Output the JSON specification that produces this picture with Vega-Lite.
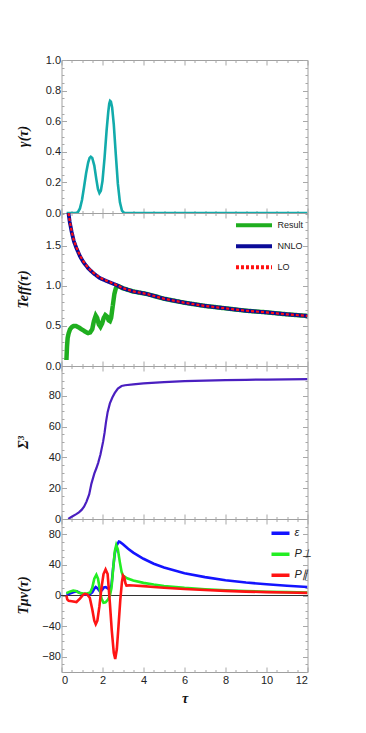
{
  "$schema": "https://vega.github.io/schema/vega-lite/v6.json",
  "padding": {"left": 15.5, "top": 53, "right": 5, "bottom": 5},
  "spacing": 0,
  "bounds": "flush",
  "config": {
    "view": {"stroke": "#a0a0a0", "strokeWidth": 1},
    "axis": {
      "domain": false, "grid": false,
      "tickColor": "#a8a8a8", "tickWidth": 1,
      "labelFont": "Liberation Sans", "labelFontSize": 11, "labelColor": "#222222", "labelPadding": 6,
      "titleFont": "Liberation Serif", "titleFontStyle": "italic", "titleFontWeight": "bold", "titleFontSize": 14, "titleColor": "#111111"
    },
    "legend": {"labelFont": "Liberation Sans", "labelFontSize": 9, "labelColor": "#222222"}
  },
  "datasets": {
    "gamma": [
      {"tau": 0.25, "v": 0}, {"tau": 0.5, "v": 0}, {"tau": 0.7, "v": 0}, {"tau": 0.8, "v": 0.005},
      {"tau": 0.9, "v": 0.03}, {"tau": 1.0, "v": 0.085}, {"tau": 1.1, "v": 0.17}, {"tau": 1.2, "v": 0.26},
      {"tau": 1.3, "v": 0.33}, {"tau": 1.37, "v": 0.36}, {"tau": 1.43, "v": 0.368}, {"tau": 1.5, "v": 0.36},
      {"tau": 1.6, "v": 0.31}, {"tau": 1.7, "v": 0.22}, {"tau": 1.78, "v": 0.155}, {"tau": 1.85, "v": 0.13},
      {"tau": 1.92, "v": 0.145}, {"tau": 2.0, "v": 0.21}, {"tau": 2.1, "v": 0.36}, {"tau": 2.2, "v": 0.54},
      {"tau": 2.28, "v": 0.66}, {"tau": 2.33, "v": 0.715}, {"tau": 2.37, "v": 0.733}, {"tau": 2.41, "v": 0.728},
      {"tau": 2.47, "v": 0.69}, {"tau": 2.55, "v": 0.58},
      {"tau": 2.65, "v": 0.38}, {"tau": 2.75, "v": 0.19}, {"tau": 2.85, "v": 0.07}, {"tau": 2.95, "v": 0.015},
      {"tau": 3.05, "v": 0}, {"tau": 5, "v": 0}, {"tau": 8, "v": 0}, {"tau": 12, "v": 0}
    ],
    "teff": [
      {"tau": 0.24, "T": 0.075, "s": "Result"}, {"tau": 0.27, "T": 0.25, "s": "Result"}, {"tau": 0.3, "T": 0.35, "s": "Result"},
      {"tau": 0.35, "T": 0.41, "s": "Result"}, {"tau": 0.42, "T": 0.46, "s": "Result"}, {"tau": 0.5, "T": 0.485, "s": "Result"},
      {"tau": 0.6, "T": 0.5, "s": "Result"}, {"tau": 0.7, "T": 0.5, "s": "Result"}, {"tau": 0.85, "T": 0.48, "s": "Result"},
      {"tau": 1.0, "T": 0.455, "s": "Result"}, {"tau": 1.15, "T": 0.43, "s": "Result"}, {"tau": 1.3, "T": 0.41, "s": "Result"},
      {"tau": 1.4, "T": 0.42, "s": "Result"}, {"tau": 1.5, "T": 0.46, "s": "Result"}, {"tau": 1.58, "T": 0.56, "s": "Result"},
      {"tau": 1.67, "T": 0.63, "s": "Result"}, {"tau": 1.74, "T": 0.6, "s": "Result"}, {"tau": 1.82, "T": 0.52, "s": "Result"},
      {"tau": 1.9, "T": 0.49, "s": "Result"}, {"tau": 1.98, "T": 0.53, "s": "Result"}, {"tau": 2.06, "T": 0.6, "s": "Result"},
      {"tau": 2.14, "T": 0.635, "s": "Result"}, {"tau": 2.22, "T": 0.62, "s": "Result"}, {"tau": 2.3, "T": 0.57, "s": "Result"},
      {"tau": 2.36, "T": 0.56, "s": "Result"}, {"tau": 2.42, "T": 0.6, "s": "Result"}, {"tau": 2.5, "T": 0.75, "s": "Result"},
      {"tau": 2.58, "T": 0.9, "s": "Result"}, {"tau": 2.65, "T": 0.97, "s": "Result"}, {"tau": 2.72, "T": 1.0, "s": "Result"},
      {"tau": 2.8, "T": 0.995, "s": "Result"}, {"tau": 3.0, "T": 0.97, "s": "Result"}, {"tau": 3.5, "T": 0.93, "s": "Result"},
      {"tau": 4.15, "T": 0.9, "s": "Result"}, {"tau": 5, "T": 0.84, "s": "Result"}, {"tau": 6, "T": 0.79, "s": "Result"},
      {"tau": 7, "T": 0.75, "s": "Result"}, {"tau": 8, "T": 0.72, "s": "Result"}, {"tau": 9, "T": 0.69, "s": "Result"},
      {"tau": 10, "T": 0.67, "s": "Result"}, {"tau": 11, "T": 0.645, "s": "Result"}, {"tau": 12, "T": 0.625, "s": "Result"},
      {"tau": 0.3, "T": 1.96, "s": "NNLO"}, {"tau": 0.33, "T": 1.93, "s": "NNLO"}, {"tau": 0.4, "T": 1.8, "s": "NNLO"},
      {"tau": 0.49, "T": 1.68, "s": "NNLO"}, {"tau": 0.6, "T": 1.56, "s": "NNLO"}, {"tau": 0.73, "T": 1.47, "s": "NNLO"},
      {"tau": 0.9, "T": 1.37, "s": "NNLO"}, {"tau": 1.06, "T": 1.3, "s": "NNLO"}, {"tau": 1.3, "T": 1.22, "s": "NNLO"},
      {"tau": 1.55, "T": 1.16, "s": "NNLO"}, {"tau": 1.85, "T": 1.1, "s": "NNLO"}, {"tau": 2.2, "T": 1.06, "s": "NNLO"},
      {"tau": 2.68, "T": 1.01, "s": "NNLO"}, {"tau": 3.0, "T": 0.97, "s": "NNLO"}, {"tau": 3.5, "T": 0.93, "s": "NNLO"},
      {"tau": 4.15, "T": 0.9, "s": "NNLO"}, {"tau": 5, "T": 0.84, "s": "NNLO"}, {"tau": 6, "T": 0.79, "s": "NNLO"},
      {"tau": 7, "T": 0.75, "s": "NNLO"}, {"tau": 8, "T": 0.72, "s": "NNLO"}, {"tau": 9, "T": 0.69, "s": "NNLO"},
      {"tau": 10, "T": 0.67, "s": "NNLO"}, {"tau": 11, "T": 0.645, "s": "NNLO"}, {"tau": 12, "T": 0.625, "s": "NNLO"},
      {"tau": 0.3, "T": 1.97, "s": "LO"}, {"tau": 0.33, "T": 1.94, "s": "LO"}, {"tau": 0.4, "T": 1.81, "s": "LO"},
      {"tau": 0.49, "T": 1.69, "s": "LO"}, {"tau": 0.6, "T": 1.57, "s": "LO"}, {"tau": 0.73, "T": 1.48, "s": "LO"},
      {"tau": 0.9, "T": 1.38, "s": "LO"}, {"tau": 1.06, "T": 1.31, "s": "LO"}, {"tau": 1.3, "T": 1.225, "s": "LO"},
      {"tau": 1.55, "T": 1.165, "s": "LO"}, {"tau": 1.85, "T": 1.105, "s": "LO"}, {"tau": 2.2, "T": 1.063, "s": "LO"},
      {"tau": 2.68, "T": 1.012, "s": "LO"}, {"tau": 3.0, "T": 0.972, "s": "LO"}, {"tau": 3.5, "T": 0.932, "s": "LO"},
      {"tau": 4.15, "T": 0.9, "s": "LO"}, {"tau": 5, "T": 0.84, "s": "LO"}, {"tau": 6, "T": 0.79, "s": "LO"},
      {"tau": 7, "T": 0.75, "s": "LO"}, {"tau": 8, "T": 0.72, "s": "LO"}, {"tau": 9, "T": 0.69, "s": "LO"},
      {"tau": 10, "T": 0.67, "s": "LO"}, {"tau": 11, "T": 0.645, "s": "LO"}, {"tau": 12, "T": 0.625, "s": "LO"}
    ],
    "sigma": [
      {"tau": 0.33, "v": 0}, {"tau": 0.5, "v": 1.5}, {"tau": 0.7, "v": 3}, {"tau": 0.85, "v": 4.3},
      {"tau": 0.98, "v": 5.9}, {"tau": 1.1, "v": 8}, {"tau": 1.22, "v": 11.3}, {"tau": 1.35, "v": 16},
      {"tau": 1.46, "v": 23}, {"tau": 1.6, "v": 29.5}, {"tau": 1.7, "v": 33}, {"tau": 1.79, "v": 36.5},
      {"tau": 1.9, "v": 42}, {"tau": 2.03, "v": 50.3}, {"tau": 2.1, "v": 56}, {"tau": 2.17, "v": 63},
      {"tau": 2.25, "v": 69.5}, {"tau": 2.36, "v": 75.2}, {"tau": 2.48, "v": 79}, {"tau": 2.6, "v": 82},
      {"tau": 2.75, "v": 84.8}, {"tau": 2.93, "v": 86.5}, {"tau": 3.1, "v": 87}, {"tau": 3.5, "v": 87.6},
      {"tau": 4, "v": 88.2}, {"tau": 5, "v": 89}, {"tau": 6, "v": 89.6}, {"tau": 7, "v": 90},
      {"tau": 8, "v": 90.3}, {"tau": 9, "v": 90.5}, {"tau": 10, "v": 90.7}, {"tau": 11, "v": 90.8}, {"tau": 12, "v": 90.9}
    ],
    "tmunu": [
      {"tau": 0.24, "v": 1, "s": "ε"}, {"tau": 0.4, "v": 2.5, "s": "ε"}, {"tau": 0.6, "v": 4.5, "s": "ε"},
      {"tau": 0.75, "v": 5.5, "s": "ε"}, {"tau": 0.9, "v": 3.5, "s": "ε"}, {"tau": 1.06, "v": 1.5, "s": "ε"},
      {"tau": 1.2, "v": 1, "s": "ε"}, {"tau": 1.38, "v": 1.5, "s": "ε"}, {"tau": 1.5, "v": 4, "s": "ε"},
      {"tau": 1.6, "v": 9, "s": "ε"}, {"tau": 1.67, "v": 11, "s": "ε"}, {"tau": 1.75, "v": 9.5, "s": "ε"},
      {"tau": 1.87, "v": 5.5, "s": "ε"}, {"tau": 1.97, "v": 7, "s": "ε"}, {"tau": 2.07, "v": 10.5, "s": "ε"},
      {"tau": 2.16, "v": 11, "s": "ε"}, {"tau": 2.27, "v": 9, "s": "ε"}, {"tau": 2.36, "v": 8, "s": "ε"},
      {"tau": 2.44, "v": 14, "s": "ε"}, {"tau": 2.52, "v": 36, "s": "ε"}, {"tau": 2.6, "v": 55, "s": "ε"},
      {"tau": 2.7, "v": 66, "s": "ε"}, {"tau": 2.8, "v": 70.5, "s": "ε"}, {"tau": 2.85, "v": 70, "s": "ε"},
      {"tau": 3.0, "v": 67, "s": "ε"}, {"tau": 3.25, "v": 61, "s": "ε"}, {"tau": 3.5, "v": 56, "s": "ε"},
      {"tau": 4, "v": 48, "s": "ε"}, {"tau": 4.5, "v": 41.5, "s": "ε"}, {"tau": 5, "v": 36.5, "s": "ε"},
      {"tau": 6, "v": 29, "s": "ε"}, {"tau": 7, "v": 24, "s": "ε"}, {"tau": 8, "v": 20, "s": "ε"},
      {"tau": 9, "v": 17, "s": "ε"}, {"tau": 10, "v": 14.7, "s": "ε"}, {"tau": 11, "v": 12.8, "s": "ε"}, {"tau": 12, "v": 11.2, "s": "ε"},
      {"tau": 0.24, "v": 3, "s": "P⊥"}, {"tau": 0.4, "v": 5, "s": "P⊥"}, {"tau": 0.57, "v": 6.5, "s": "P⊥"},
      {"tau": 0.7, "v": 6, "s": "P⊥"}, {"tau": 0.85, "v": 3.5, "s": "P⊥"}, {"tau": 1.06, "v": 2.5, "s": "P⊥"},
      {"tau": 1.25, "v": 2.5, "s": "P⊥"}, {"tau": 1.4, "v": 4, "s": "P⊥"}, {"tau": 1.5, "v": 10, "s": "P⊥"},
      {"tau": 1.6, "v": 22, "s": "P⊥"}, {"tau": 1.7, "v": 27, "s": "P⊥"}, {"tau": 1.78, "v": 22, "s": "P⊥"},
      {"tau": 1.87, "v": 8, "s": "P⊥"}, {"tau": 1.95, "v": -4, "s": "P⊥"}, {"tau": 2.05, "v": -9.5, "s": "P⊥"},
      {"tau": 2.15, "v": -9, "s": "P⊥"}, {"tau": 2.28, "v": -5, "s": "P⊥"}, {"tau": 2.36, "v": 0, "s": "P⊥"},
      {"tau": 2.44, "v": 10, "s": "P⊥"}, {"tau": 2.52, "v": 35, "s": "P⊥"}, {"tau": 2.6, "v": 58, "s": "P⊥"},
      {"tau": 2.67, "v": 66, "s": "P⊥"}, {"tau": 2.75, "v": 60, "s": "P⊥"}, {"tau": 2.85, "v": 43, "s": "P⊥"},
      {"tau": 2.93, "v": 31, "s": "P⊥"}, {"tau": 3.0, "v": 26, "s": "P⊥"}, {"tau": 3.2, "v": 22.5, "s": "P⊥"},
      {"tau": 3.5, "v": 19.5, "s": "P⊥"}, {"tau": 4, "v": 16.5, "s": "P⊥"}, {"tau": 4.5, "v": 14.3, "s": "P⊥"},
      {"tau": 5, "v": 12.5, "s": "P⊥"}, {"tau": 6, "v": 10, "s": "P⊥"}, {"tau": 7, "v": 8.2, "s": "P⊥"},
      {"tau": 8, "v": 6.8, "s": "P⊥"}, {"tau": 9, "v": 5.8, "s": "P⊥"}, {"tau": 10, "v": 5, "s": "P⊥"},
      {"tau": 11, "v": 4.4, "s": "P⊥"}, {"tau": 12, "v": 4, "s": "P⊥"},
      {"tau": 0.24, "v": 0, "s": "P∥"}, {"tau": 0.28, "v": -5, "s": "P∥"}, {"tau": 0.35, "v": -7, "s": "P∥"},
      {"tau": 0.5, "v": -7.5, "s": "P∥"}, {"tau": 0.73, "v": -8.5, "s": "P∥"}, {"tau": 0.9, "v": -4, "s": "P∥"},
      {"tau": 1.06, "v": 1, "s": "P∥"}, {"tau": 1.14, "v": 2.2, "s": "P∥"}, {"tau": 1.25, "v": 1.5, "s": "P∥"},
      {"tau": 1.38, "v": -3, "s": "P∥"}, {"tau": 1.5, "v": -18, "s": "P∥"}, {"tau": 1.6, "v": -33, "s": "P∥"},
      {"tau": 1.67, "v": -37.5, "s": "P∥"}, {"tau": 1.75, "v": -33, "s": "P∥"}, {"tau": 1.85, "v": -14, "s": "P∥"},
      {"tau": 1.95, "v": 10, "s": "P∥"}, {"tau": 2.05, "v": 28, "s": "P∥"}, {"tau": 2.15, "v": 34, "s": "P∥"},
      {"tau": 2.25, "v": 28, "s": "P∥"}, {"tau": 2.36, "v": -10, "s": "P∥"}, {"tau": 2.45, "v": -45, "s": "P∥"},
      {"tau": 2.55, "v": -75, "s": "P∥"}, {"tau": 2.62, "v": -83, "s": "P∥"}, {"tau": 2.7, "v": -70, "s": "P∥"},
      {"tau": 2.78, "v": -40, "s": "P∥"}, {"tau": 2.87, "v": -5, "s": "P∥"}, {"tau": 2.95, "v": 18, "s": "P∥"},
      {"tau": 3.0, "v": 26, "s": "P∥"}, {"tau": 3.06, "v": 24, "s": "P∥"}, {"tau": 3.12, "v": 16, "s": "P∥"},
      {"tau": 3.17, "v": 13, "s": "P∥"}, {"tau": 3.3, "v": 13.2, "s": "P∥"}, {"tau": 3.5, "v": 13, "s": "P∥"},
      {"tau": 4, "v": 12.3, "s": "P∥"}, {"tau": 4.5, "v": 11.2, "s": "P∥"}, {"tau": 5, "v": 10.2, "s": "P∥"},
      {"tau": 6, "v": 8.5, "s": "P∥"}, {"tau": 7, "v": 7.1, "s": "P∥"}, {"tau": 8, "v": 6, "s": "P∥"},
      {"tau": 9, "v": 5.1, "s": "P∥"}, {"tau": 10, "v": 4.4, "s": "P∥"}, {"tau": 11, "v": 3.9, "s": "P∥"}, {"tau": 12, "v": 3.4, "s": "P∥"}
    ]
  },
  "resolve": {"scale": {"color": "independent", "strokeDash": "independent"}, "legend": {"color": "independent", "strokeDash": "independent"}},
  "vconcat": [
    {
      "width": 246, "height": 153,
      "data": {"name": "gamma"},
      "layer": [
        {
          "mark": {"type": "line", "color": "#12abab", "strokeWidth": 2.6, "clip": true},
          "encoding": {
            "x": {"field": "tau", "type": "quantitative", "scale": {"domain": [0, 12], "nice": false},
                  "axis": {"orient": "bottom", "labels": false, "title": null, "maxExtent": 0, "minExtent": 0,
                           "values": [0, 0.5, 1, 1.5, 2, 2.5, 3, 3.5, 4, 4.5, 5, 5.5, 6, 6.5, 7, 7.5, 8, 8.5, 9, 9.5, 10, 10.5, 11, 11.5, 12],
                           "tickSize": {"condition": {"test": "datum.value % 2 === 0", "value": -5}, "value": -2.5}}},
            "y": {"field": "v", "type": "quantitative", "scale": {"domain": [0, 1], "nice": false},
                  "axis": {"orient": "left", "title": "γ(τ)", "titleX": -31, "titleY": 76,
                           "values": [0, 0.05, 0.1, 0.15, 0.2, 0.25, 0.3, 0.35, 0.4, 0.45, 0.5, 0.55, 0.6, 0.65, 0.7, 0.75, 0.8, 0.85, 0.9, 0.95, 1],
                           "labelExpr": "abs(datum.value*5 - round(datum.value*5)) < 0.001 ? format(datum.value, '.1f') : ''",
                           "tickSize": {"condition": {"test": "abs(datum.value*5 - round(datum.value*5)) < 0.001", "value": -5}, "value": -2.5}}}
          }
        },
        {
          "mark": {"type": "line", "opacity": 0},
          "encoding": {
            "x": {"field": "tau", "type": "quantitative",
                  "axis": {"orient": "top", "labels": false, "title": null, "maxExtent": 0, "minExtent": 0,
                           "values": [0, 0.5, 1, 1.5, 2, 2.5, 3, 3.5, 4, 4.5, 5, 5.5, 6, 6.5, 7, 7.5, 8, 8.5, 9, 9.5, 10, 10.5, 11, 11.5, 12],
                           "tickSize": {"condition": {"test": "datum.value % 2 === 0", "value": -5}, "value": -2.5}}},
            "y": {"field": "v", "type": "quantitative",
                  "axis": {"orient": "right", "labels": false, "title": null, "maxExtent": 0, "minExtent": 0,
                           "values": [0, 0.05, 0.1, 0.15, 0.2, 0.25, 0.3, 0.35, 0.4, 0.45, 0.5, 0.55, 0.6, 0.65, 0.7, 0.75, 0.8, 0.85, 0.9, 0.95, 1],
                           "tickSize": {"condition": {"test": "abs(datum.value*5 - round(datum.value*5)) < 0.001", "value": -5}, "value": -2.5}}}
          }
        }
      ],
      "resolve": {"axis": {"x": "independent", "y": "independent"}}
    },
    {
      "width": 246, "height": 153,
      "data": {"name": "teff"},
      "layer": [
        {
          "transform": [{"filter": "datum.s === 'Result'"}],
          "mark": {"type": "line", "strokeWidth": 4.5, "clip": true},
          "encoding": {
            "x": {"field": "tau", "type": "quantitative", "scale": {"domain": [0, 12], "nice": false},
                  "axis": {"orient": "bottom", "labels": false, "title": null, "maxExtent": 0, "minExtent": 0,
                           "values": [0, 0.5, 1, 1.5, 2, 2.5, 3, 3.5, 4, 4.5, 5, 5.5, 6, 6.5, 7, 7.5, 8, 8.5, 9, 9.5, 10, 10.5, 11, 11.5, 12],
                           "tickSize": {"condition": {"test": "datum.value % 2 === 0", "value": -5}, "value": -2.5}}},
            "y": {"field": "T", "type": "quantitative", "scale": {"domain": [0, 1.91], "nice": false},
                  "axis": {"orient": "left", "title": "Teff(τ)", "titleX": -31, "titleY": 76,
                           "values": [0, 0.1, 0.2, 0.3, 0.4, 0.5, 0.6, 0.7, 0.8, 0.9, 1, 1.1, 1.2, 1.3, 1.4, 1.5, 1.6, 1.7, 1.8, 1.9],
                           "labelExpr": "abs(datum.value*2 - round(datum.value*2)) < 0.001 ? format(datum.value, '.1f') : ''",
                           "tickSize": {"condition": {"test": "abs(datum.value*2 - round(datum.value*2)) < 0.001", "value": -5}, "value": -2.5}}},
            "color": {"field": "s", "type": "nominal",
                      "scale": {"domain": ["Result", "NNLO", "LO"], "range": ["#1fae1f", "#0b0b98", "#ff1010"]},
                      "legend": {"title": null, "orient": "none", "legendX": 172, "legendY": 3, "symbolType": "stroke",
                                 "symbolSize": 1300, "symbolStrokeWidth": 4, "clipHeight": 18.4, "labelOffset": 3}},
            "strokeDash": {"field": "s", "type": "nominal",
                           "scale": {"domain": ["Result", "NNLO", "LO"], "range": [[1, 0], [1, 0], [3, 2]]},
                           "legend": {"title": null, "orient": "none", "legendX": 172, "legendY": 3, "symbolType": "stroke",
                                      "symbolSize": 1300, "symbolStrokeWidth": 4, "clipHeight": 18.4, "labelOffset": 3}}
          }
        },
        {
          "transform": [{"filter": "datum.s === 'NNLO'"}],
          "mark": {"type": "line", "strokeWidth": 3.8, "clip": true},
          "encoding": {
            "x": {"field": "tau", "type": "quantitative", "axis": null},
            "y": {"field": "T", "type": "quantitative", "axis": null},
            "color": {"field": "s", "type": "nominal"},
            "strokeDash": {"field": "s", "type": "nominal"}
          }
        },
        {
          "transform": [{"filter": "datum.s === 'LO'"}],
          "mark": {"type": "line", "strokeWidth": 2.2, "clip": true},
          "encoding": {
            "x": {"field": "tau", "type": "quantitative", "axis": null},
            "y": {"field": "T", "type": "quantitative", "axis": null},
            "color": {"field": "s", "type": "nominal"},
            "strokeDash": {"field": "s", "type": "nominal"}
          }
        },
        {
          "mark": {"type": "line", "opacity": 0},
          "encoding": {
            "x": {"field": "tau", "type": "quantitative",
                  "axis": {"orient": "top", "labels": false, "title": null, "maxExtent": 0, "minExtent": 0,
                           "values": [0, 0.5, 1, 1.5, 2, 2.5, 3, 3.5, 4, 4.5, 5, 5.5, 6, 6.5, 7, 7.5, 8, 8.5, 9, 9.5, 10, 10.5, 11, 11.5, 12],
                           "tickSize": {"condition": {"test": "datum.value % 2 === 0", "value": -5}, "value": -2.5}}},
            "y": {"field": "T", "type": "quantitative",
                  "axis": {"orient": "right", "labels": false, "title": null, "maxExtent": 0, "minExtent": 0,
                           "values": [0, 0.1, 0.2, 0.3, 0.4, 0.5, 0.6, 0.7, 0.8, 0.9, 1, 1.1, 1.2, 1.3, 1.4, 1.5, 1.6, 1.7, 1.8, 1.9],
                           "tickSize": {"condition": {"test": "abs(datum.value*2 - round(datum.value*2)) < 0.001", "value": -5}, "value": -2.5}}}
          }
        }
      ],
      "resolve": {"axis": {"x": "independent", "y": "independent"}}
    },
    {
      "width": 246, "height": 153,
      "data": {"name": "sigma"},
      "layer": [
        {
          "mark": {"type": "line", "color": "#4a1fc0", "strokeWidth": 2.2, "clip": true},
          "encoding": {
            "x": {"field": "tau", "type": "quantitative", "scale": {"domain": [0, 12], "nice": false},
                  "axis": {"orient": "bottom", "labels": false, "title": null, "maxExtent": 0, "minExtent": 0,
                           "values": [0, 0.5, 1, 1.5, 2, 2.5, 3, 3.5, 4, 4.5, 5, 5.5, 6, 6.5, 7, 7.5, 8, 8.5, 9, 9.5, 10, 10.5, 11, 11.5, 12],
                           "tickSize": {"condition": {"test": "datum.value % 2 === 0", "value": -5}, "value": -2.5}}},
            "y": {"field": "v", "type": "quantitative", "scale": {"domain": [0, 99.5], "nice": false},
                  "axis": {"orient": "left", "title": "Σ³", "titleX": -31, "titleY": 76,
                           "values": [0, 5, 10, 15, 20, 25, 30, 35, 40, 45, 50, 55, 60, 65, 70, 75, 80, 85, 90, 95],
                           "labelExpr": "datum.value % 20 === 0 ? format(datum.value, 'd') : ''",
                           "tickSize": {"condition": {"test": "datum.value % 20 === 0", "value": -5}, "value": -2.5}}}
          }
        },
        {
          "mark": {"type": "line", "opacity": 0},
          "encoding": {
            "x": {"field": "tau", "type": "quantitative",
                  "axis": {"orient": "top", "labels": false, "title": null, "maxExtent": 0, "minExtent": 0,
                           "values": [0, 0.5, 1, 1.5, 2, 2.5, 3, 3.5, 4, 4.5, 5, 5.5, 6, 6.5, 7, 7.5, 8, 8.5, 9, 9.5, 10, 10.5, 11, 11.5, 12],
                           "tickSize": {"condition": {"test": "datum.value % 2 === 0", "value": -5}, "value": -2.5}}},
            "y": {"field": "v", "type": "quantitative",
                  "axis": {"orient": "right", "labels": false, "title": null, "maxExtent": 0, "minExtent": 0,
                           "values": [0, 5, 10, 15, 20, 25, 30, 35, 40, 45, 50, 55, 60, 65, 70, 75, 80, 85, 90, 95],
                           "tickSize": {"condition": {"test": "datum.value % 20 === 0", "value": -5}, "value": -2.5}}}
          }
        }
      ],
      "resolve": {"axis": {"x": "independent", "y": "independent"}}
    },
    {
      "width": 246, "height": 153,
      "data": {"name": "tmunu"},
      "layer": [
        {
          "mark": {"type": "rule", "color": "#333333", "strokeWidth": 0.9},
          "encoding": {"y": {"datum": 0, "type": "quantitative", "axis": null}}
        },
        {
          "mark": {"type": "line", "strokeWidth": 2.6, "clip": true},
          "encoding": {
            "x": {"field": "tau", "type": "quantitative", "scale": {"domain": [0, 12], "nice": false},
                  "axis": {"orient": "bottom", "title": "τ", "labelPadding": 7, "titlePadding": 6,
                           "values": [0, 0.5, 1, 1.5, 2, 2.5, 3, 3.5, 4, 4.5, 5, 5.5, 6, 6.5, 7, 7.5, 8, 8.5, 9, 9.5, 10, 10.5, 11, 11.5, 12],
                           "labelExpr": "datum.value % 2 === 0 ? format(datum.value, 'd') : ''",
                           "tickSize": {"condition": {"test": "datum.value % 2 === 0", "value": -5}, "value": -2.5}}},
            "y": {"field": "v", "type": "quantitative", "scale": {"domain": [-100, 100], "nice": false},
                  "axis": {"orient": "left", "title": "Tμν(τ)", "titleX": -31, "titleY": 76,
                           "values": [-100, -90, -80, -70, -60, -50, -40, -30, -20, -10, 0, 10, 20, 30, 40, 50, 60, 70, 80, 90, 100],
                           "labelExpr": "datum.value % 40 === 0 ? format(datum.value, 'd') : ''",
                           "tickSize": {"condition": {"test": "datum.value % 40 === 0", "value": -5}, "value": -2.5}}},
            "color": {"field": "s", "type": "nominal",
                      "scale": {"domain": ["ε", "P⊥", "P∥"], "range": ["#1414ff", "#22ee22", "#ff1414"]},
                      "legend": {"title": null, "orient": "none", "legendX": 208, "legendY": 5, "symbolType": "stroke",
                                 "symbolSize": 324, "symbolStrokeWidth": 3.5, "clipHeight": 18.3, "labelOffset": 3,
                                 "labelFontStyle": "italic", "labelFontSize": 11}}
          }
        },
        {
          "mark": {"type": "line", "opacity": 0},
          "encoding": {
            "x": {"field": "tau", "type": "quantitative",
                  "axis": {"orient": "top", "labels": false, "title": null, "maxExtent": 0, "minExtent": 0,
                           "values": [0, 0.5, 1, 1.5, 2, 2.5, 3, 3.5, 4, 4.5, 5, 5.5, 6, 6.5, 7, 7.5, 8, 8.5, 9, 9.5, 10, 10.5, 11, 11.5, 12],
                           "tickSize": {"condition": {"test": "datum.value % 2 === 0", "value": -5}, "value": -2.5}}},
            "y": {"field": "v", "type": "quantitative",
                  "axis": {"orient": "right", "labels": false, "title": null, "maxExtent": 0, "minExtent": 0,
                           "values": [-100, -90, -80, -70, -60, -50, -40, -30, -20, -10, 0, 10, 20, 30, 40, 50, 60, 70, 80, 90, 100],
                           "tickSize": {"condition": {"test": "datum.value % 40 === 0", "value": -5}, "value": -2.5}}}
          }
        }
      ],
      "resolve": {"axis": {"x": "independent", "y": "independent"}}
    }
  ]
}
